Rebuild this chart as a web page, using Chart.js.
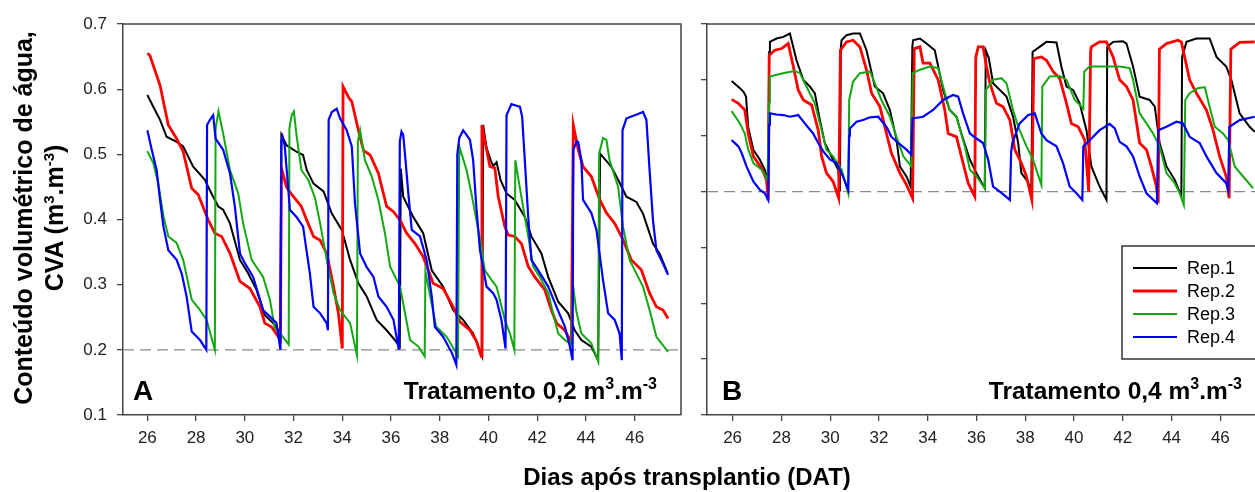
<!DOCTYPE html>
<html>
<head>
    <meta charset="utf-8">
    <title>Conteúdo volumétrico de água</title>
    <style>
        body {
            margin: 0;
            background-color: #fff;
            font-family: Arial, "Liberation Sans", sans-serif;
        }

        #wrap {
            position: relative;
            width: 1255px;
            height: 492px;
            overflow: hidden;
        }

        canvas {
            position: absolute;
            top: 0;
        }

        #chartA { left: 0; }
        #chartB { left: 690px; }

        .ytitle {
            position: absolute;
            left: -170px;
            top: 186px;
            width: 420px;
            height: 64px;
            transform: rotate(-90deg);
            text-align: center;
            font-weight: bold;
            font-size: 25px;
            line-height: 31px;
            color: #000;
        }

        .xtitle {
            position: absolute;
            left: 437px;
            top: 464px;
            width: 500px;
            text-align: center;
            font-weight: bold;
            font-size: 24px;
            line-height: 26px;
            color: #000;
        }

        sup {
            font-size: 15px;
            vertical-align: 9px;
            line-height: 0;
        }
    </style>
</head>
<body>
    <div id="wrap">
        <canvas id="chartA" width="690" height="492"></canvas>
        <canvas id="chartB" width="565" height="492"></canvas>
        <div class="ytitle">Conteúdo volumétrico de água,<br>CVA (m<sup>3</sup>.m<sup>-3</sup>)</div>
        <div class="xtitle">Dias após transplantio (DAT)</div>
    </div>

    <script src="https://cdn.jsdelivr.net/npm/chart.js"></script>
    <script>
        // values: [day, CVA]
        const repLabels = ['Rep.1', 'Rep.2', 'Rep.3', 'Rep.4'];
        const repColors = ['#000000', '#ff0000', '#12a812', '#0000ff'];

        const xTicks = [26, 28, 30, 32, 34, 36, 38, 40, 42, 44, 46];
        const yTicksA = [0.1, 0.2, 0.3, 0.4, 0.5, 0.6, 0.7];
        const yTicksB = [0, 0.1, 0.2, 0.3, 0.4, 0.5, 0.6, 0.7];
        const thresholdA = 0.2;
        const thresholdB = 0.4;

        // Tratamento 0,2
        const repA1 = [[26.0,0.591],[26.31,0.568],[26.52,0.553],[26.79,0.527],[27.2,0.519],[27.47,0.512],[27.88,0.481],[28.36,0.461],[28.63,0.44],[28.91,0.42],[29.11,0.415],[29.39,0.394],[29.8,0.338],[30.14,0.317],[30.48,0.292],[30.82,0.253],[31.16,0.241],[31.46,0.226],[31.5,0.53],[31.71,0.514],[32.12,0.504],[32.39,0.499],[32.54,0.476],[32.82,0.455],[33.23,0.443],[33.57,0.409],[33.98,0.384],[34.32,0.338],[34.66,0.302],[35.0,0.282],[35.41,0.246],[35.82,0.23],[36.16,0.215],[36.36,0.205],[36.4,0.478],[36.5,0.435],[36.91,0.404],[37.32,0.379],[37.67,0.322],[38.14,0.297],[38.55,0.261],[38.96,0.246],[39.37,0.225],[39.74,0.19],[39.78,0.545],[39.92,0.51],[40.1,0.49],[40.2,0.482],[40.33,0.488],[40.5,0.46],[40.74,0.44],[41.08,0.43],[41.49,0.404],[41.76,0.374],[42.17,0.348],[42.45,0.312],[42.86,0.274],[43.27,0.256],[43.54,0.23],[43.81,0.215],[44.22,0.205],[44.5,0.184],[44.58,0.501],[45.04,0.481],[45.32,0.461],[45.66,0.435],[46.07,0.427],[46.34,0.409],[46.75,0.363],[47.02,0.348],[47.35,0.318]];
        const repA2 = [[26.0,0.655],[26.1,0.652],[26.52,0.606],[26.86,0.545],[27.2,0.524],[27.47,0.504],[27.82,0.448],[28.09,0.438],[28.5,0.399],[28.77,0.379],[29.05,0.374],[29.39,0.348],[29.8,0.305],[30.21,0.294],[30.62,0.266],[30.82,0.241],[31.1,0.235],[31.46,0.215],[31.5,0.479],[31.71,0.45],[31.93,0.438],[32.32,0.42],[32.54,0.399],[32.82,0.374],[33.09,0.368],[33.36,0.348],[33.64,0.297],[33.84,0.256],[34.0,0.202],[34.03,0.604],[34.25,0.588],[34.39,0.581],[34.66,0.537],[34.87,0.506],[35.14,0.499],[35.48,0.471],[35.82,0.42],[36.1,0.412],[36.37,0.399],[36.64,0.379],[36.98,0.363],[37.32,0.343],[37.73,0.302],[38.14,0.294],[38.55,0.266],[38.83,0.243],[39.24,0.23],[39.51,0.213],[39.7,0.19],[39.73,0.545],[39.85,0.52],[40.06,0.481],[40.26,0.479],[40.4,0.435],[40.67,0.389],[40.81,0.376],[41.08,0.374],[41.35,0.363],[41.63,0.328],[41.9,0.312],[42.31,0.292],[42.58,0.261],[42.79,0.241],[43.13,0.23],[43.4,0.212],[43.48,0.545],[43.68,0.507],[43.88,0.481],[44.22,0.466],[44.57,0.43],[44.84,0.41],[45.18,0.394],[45.52,0.369],[45.86,0.338],[46.27,0.323],[46.61,0.287],[46.89,0.266],[47.16,0.261],[47.37,0.248]];
        const repA3 = [[26.0,0.505],[26.25,0.486],[26.45,0.455],[26.66,0.405],[26.86,0.374],[27.2,0.364],[27.47,0.338],[27.82,0.277],[28.16,0.261],[28.43,0.246],[28.77,0.2],[28.8,0.54],[28.92,0.566],[29.11,0.532],[29.39,0.476],[29.73,0.44],[29.93,0.394],[30.28,0.338],[30.75,0.312],[31.03,0.277],[31.23,0.233],[31.5,0.223],[31.8,0.208],[31.83,0.54],[31.92,0.56],[32.01,0.566],[32.12,0.53],[32.32,0.476],[32.6,0.461],[32.88,0.433],[33.09,0.394],[33.36,0.338],[33.64,0.287],[33.91,0.261],[34.32,0.241],[34.6,0.192],[34.64,0.52],[34.73,0.537],[34.93,0.491],[35.21,0.466],[35.48,0.43],[35.75,0.379],[35.96,0.328],[36.37,0.297],[36.78,0.215],[37.12,0.205],[37.38,0.19],[37.41,0.32],[37.53,0.297],[37.85,0.236],[38.28,0.22],[38.6,0.2],[38.75,0.19],[38.8,0.512],[39.1,0.476],[39.3,0.44],[39.65,0.37],[39.85,0.322],[40.13,0.307],[40.33,0.297],[40.67,0.246],[40.88,0.225],[41.06,0.2],[41.1,0.491],[41.22,0.463],[41.63,0.374],[41.83,0.328],[42.1,0.312],[42.45,0.287],[42.65,0.256],[42.86,0.225],[43.13,0.215],[43.4,0.208],[43.46,0.302],[43.6,0.26],[43.81,0.225],[44.22,0.21],[44.5,0.182],[44.54,0.501],[44.7,0.525],[44.84,0.522],[44.97,0.491],[45.32,0.45],[45.52,0.389],[45.79,0.338],[46.07,0.317],[46.34,0.297],[46.61,0.261],[46.89,0.22],[47.37,0.197]];
        const repA4 = [[26.0,0.537],[26.18,0.507],[26.38,0.476],[26.52,0.43],[26.66,0.389],[26.86,0.353],[27.2,0.338],[27.41,0.317],[27.61,0.282],[27.82,0.228],[28.16,0.215],[28.42,0.2],[28.45,0.545],[28.6,0.555],[28.7,0.56],[28.8,0.524],[29.11,0.507],[29.39,0.471],[29.59,0.42],[29.8,0.348],[30.0,0.333],[30.34,0.312],[30.75,0.261],[31.03,0.251],[31.3,0.241],[31.46,0.2],[31.5,0.52],[31.55,0.527],[31.64,0.512],[31.85,0.415],[32.12,0.404],[32.39,0.389],[32.67,0.317],[32.82,0.266],[33.09,0.256],[33.36,0.241],[33.41,0.23],[33.44,0.553],[33.57,0.565],[33.77,0.57],[33.91,0.555],[34.18,0.537],[34.39,0.512],[34.52,0.425],[34.73,0.348],[35.0,0.327],[35.28,0.312],[35.48,0.282],[35.82,0.266],[36.1,0.246],[36.32,0.2],[36.36,0.52],[36.43,0.535],[36.5,0.53],[36.57,0.501],[36.71,0.44],[36.85,0.384],[37.19,0.374],[37.46,0.338],[37.67,0.282],[37.8,0.235],[38.14,0.22],[38.5,0.195],[38.68,0.177],[38.72,0.5],[38.8,0.525],[38.96,0.537],[39.1,0.53],[39.24,0.522],[39.37,0.491],[39.5,0.42],[39.65,0.353],[39.92,0.297],[40.19,0.287],[40.33,0.277],[40.53,0.246],[40.7,0.202],[40.74,0.56],[40.94,0.577],[41.29,0.573],[41.38,0.558],[41.49,0.491],[41.63,0.404],[41.76,0.338],[42.04,0.322],[42.45,0.297],[42.79,0.266],[43.13,0.236],[43.34,0.205],[43.45,0.184],[43.48,0.507],[43.62,0.52],[43.68,0.519],[43.81,0.491],[43.88,0.43],[44.22,0.41],[44.43,0.384],[44.7,0.307],[44.91,0.256],[45.18,0.246],[45.38,0.225],[45.47,0.184],[45.5,0.537],[45.66,0.555],[45.86,0.558],[46.14,0.562],[46.34,0.565],[46.48,0.553],[46.61,0.476],[46.75,0.399],[46.89,0.353],[47.09,0.338],[47.37,0.315]];

        // Tratamento 0,4
        const repB1 = [[25.96,0.598],[26.3,0.585],[26.44,0.579],[26.55,0.57],[26.64,0.515],[26.85,0.475],[27.12,0.457],[27.32,0.439],[27.46,0.418],[27.5,0.65],[27.53,0.668],[27.8,0.674],[28.08,0.677],[28.35,0.683],[28.62,0.635],[28.9,0.6],[29.17,0.588],[29.37,0.576],[29.58,0.528],[29.78,0.487],[30.12,0.457],[30.33,0.439],[30.4,0.4],[30.44,0.66],[30.47,0.671],[30.67,0.68],[30.94,0.683],[31.22,0.683],[31.49,0.653],[31.83,0.588],[32.17,0.576],[32.45,0.546],[32.72,0.493],[32.86,0.445],[33.13,0.427],[33.3,0.409],[33.37,0.66],[33.4,0.671],[33.68,0.674],[33.95,0.665],[34.29,0.653],[34.43,0.624],[34.63,0.582],[34.9,0.546],[35.18,0.534],[35.38,0.504],[35.73,0.457],[36.0,0.433],[36.34,0.406],[36.38,0.653],[36.5,0.64],[36.68,0.594],[36.96,0.582],[37.23,0.57],[37.5,0.534],[37.71,0.487],[37.84,0.433],[38.05,0.421],[38.25,0.405],[38.3,0.65],[38.59,0.659],[38.87,0.668],[39.28,0.667],[39.48,0.624],[39.69,0.588],[39.96,0.582],[40.23,0.558],[40.51,0.51],[40.71,0.445],[41.05,0.409],[41.33,0.385],[41.36,0.659],[41.6,0.668],[42.01,0.669],[42.15,0.665],[42.42,0.624],[42.69,0.57],[43.1,0.564],[43.31,0.552],[43.51,0.487],[43.79,0.445],[44.13,0.421],[44.4,0.392],[44.43,0.641],[44.61,0.668],[45.02,0.674],[45.56,0.674],[45.84,0.641],[46.24,0.624],[46.45,0.6],[46.79,0.54],[47.2,0.516],[47.41,0.507]];
        const repB2 = [[25.96,0.565],[26.23,0.558],[26.5,0.546],[26.64,0.504],[26.85,0.463],[27.19,0.442],[27.39,0.421],[27.46,0.385],[27.5,0.644],[27.73,0.653],[28.01,0.656],[28.28,0.665],[28.49,0.624],[28.69,0.582],[28.9,0.564],[29.24,0.555],[29.51,0.51],[29.65,0.463],[29.85,0.433],[30.12,0.418],[30.35,0.388],[30.42,0.653],[30.67,0.668],[30.94,0.671],[31.22,0.659],[31.49,0.618],[31.7,0.576],[32.04,0.552],[32.31,0.504],[32.51,0.469],[32.86,0.433],[33.13,0.412],[33.38,0.388],[33.45,0.656],[33.68,0.659],[33.81,0.63],[34.09,0.63],[34.43,0.6],[34.7,0.546],[34.84,0.504],[35.18,0.498],[35.45,0.451],[35.66,0.415],[35.93,0.391],[35.97,0.64],[36.07,0.659],[36.27,0.659],[36.41,0.624],[36.55,0.594],[36.82,0.558],[37.09,0.552],[37.37,0.528],[37.57,0.475],[37.84,0.451],[38.05,0.427],[38.27,0.385],[38.35,0.638],[38.66,0.641],[38.87,0.635],[39.14,0.615],[39.41,0.603],[39.69,0.558],[39.89,0.522],[40.17,0.516],[40.44,0.492],[40.6,0.4],[40.68,0.65],[40.71,0.659],[41.05,0.668],[41.33,0.668],[41.6,0.641],[41.87,0.6],[42.15,0.588],[42.42,0.564],[42.69,0.487],[42.97,0.475],[43.17,0.445],[43.38,0.409],[43.45,0.379],[43.5,0.655],[43.79,0.665],[44.26,0.671],[44.4,0.668],[44.74,0.6],[45.02,0.576],[45.43,0.546],[45.7,0.51],[45.97,0.463],[46.24,0.427],[46.36,0.388],[46.43,0.655],[46.79,0.667],[47.41,0.668]];
        const repB3 = [[25.96,0.544],[26.3,0.522],[26.5,0.504],[26.64,0.475],[26.85,0.451],[27.19,0.439],[27.43,0.421],[27.5,0.56],[27.53,0.606],[27.8,0.609],[28.21,0.613],[28.55,0.616],[28.76,0.612],[28.96,0.594],[29.37,0.558],[29.65,0.51],[29.85,0.475],[30.12,0.463],[30.47,0.439],[30.74,0.397],[30.78,0.564],[30.94,0.597],[31.22,0.612],[31.63,0.615],[31.83,0.594],[32.1,0.564],[32.45,0.534],[32.72,0.498],[33.0,0.463],[33.33,0.445],[33.38,0.612],[33.68,0.618],[34.09,0.624],[34.43,0.621],[34.63,0.588],[34.9,0.546],[35.18,0.534],[35.52,0.481],[35.73,0.439],[36.0,0.427],[36.34,0.406],[36.39,0.582],[36.68,0.6],[37.02,0.603],[37.23,0.594],[37.5,0.546],[37.71,0.516],[38.05,0.481],[38.32,0.457],[38.66,0.412],[38.7,0.588],[39.0,0.606],[39.41,0.607],[39.69,0.6],[40.03,0.564],[40.3,0.552],[40.38,0.548],[40.42,0.615],[40.64,0.624],[41.46,0.624],[41.87,0.624],[42.28,0.621],[42.42,0.6],[42.69,0.54],[42.97,0.522],[43.24,0.504],[43.51,0.481],[43.79,0.433],[44.13,0.415],[44.33,0.397],[44.5,0.376],[44.56,0.564],[44.74,0.576],[45.08,0.585],[45.36,0.587],[45.49,0.564],[45.77,0.516],[46.11,0.504],[46.32,0.492],[46.59,0.445],[46.93,0.427],[47.34,0.406]];
        const repB4 = [[25.96,0.492],[26.16,0.484],[26.25,0.48],[26.37,0.469],[26.57,0.445],[26.85,0.418],[27.12,0.403],[27.32,0.397],[27.46,0.385],[27.5,0.52],[27.53,0.54],[27.8,0.538],[28.08,0.537],[28.35,0.534],[28.69,0.537],[28.96,0.522],[29.3,0.504],[29.51,0.487],[29.72,0.472],[30.0,0.457],[30.26,0.451],[30.47,0.433],[30.74,0.403],[30.78,0.5],[30.81,0.513],[31.08,0.525],[31.35,0.528],[31.63,0.533],[31.97,0.534],[32.31,0.516],[32.51,0.498],[32.79,0.487],[33.13,0.475],[33.33,0.466],[33.38,0.531],[33.81,0.534],[34.22,0.546],[34.63,0.564],[35.04,0.573],[35.25,0.57],[35.45,0.54],[35.73,0.504],[36.0,0.495],[36.27,0.487],[36.48,0.457],[36.68,0.409],[36.96,0.4],[37.37,0.385],[37.42,0.47],[37.47,0.487],[37.77,0.522],[38.12,0.537],[38.39,0.54],[38.66,0.504],[38.87,0.492],[39.28,0.481],[39.55,0.451],[39.82,0.409],[40.1,0.397],[40.34,0.385],[40.38,0.481],[40.64,0.492],[41.05,0.51],[41.46,0.521],[41.67,0.513],[41.87,0.489],[42.15,0.481],[42.42,0.463],[42.69,0.427],[42.97,0.397],[43.4,0.379],[43.45,0.51],[43.79,0.516],[44.2,0.525],[44.47,0.522],[44.74,0.498],[45.15,0.487],[45.43,0.463],[45.84,0.433],[46.24,0.415],[46.32,0.403],[46.37,0.516],[46.79,0.528],[47.41,0.534]];

        const FONT = 'Arial, "Liberation Sans", sans-serif';
        Chart.defaults.font.family = FONT;
        Chart.defaults.color = '#222';

        function drawSupText(ctx, parts, right, base) {
            const big = 'bold 24.5px ' + FONT;
            const small = 'bold 16px ' + FONT;
            let w = 0;
            parts.forEach(p => {
                ctx.font = p.sup ? small : big;
                w += ctx.measureText(p.t).width;
            });
            let x = right - w;
            ctx.textAlign = 'left';
            parts.forEach(p => {
                ctx.font = p.sup ? small : big;
                ctx.fillText(p.t, x, p.sup ? base - 10 : base);
                x += ctx.measureText(p.t).width;
            });
        }

        const decoPlugin = {
            id: 'deco',
            afterDraw(chart, args, opts) {
                const ctx = chart.ctx;
                const a = chart.chartArea;
                ctx.save();
                ctx.strokeStyle = '#444';
                ctx.lineWidth = 1.5;
                ctx.beginPath();
                ctx.moveTo(a.left, a.top);
                ctx.lineTo(a.right, a.top);
                if (opts.rightBorder) ctx.lineTo(a.right, a.bottom);
                ctx.stroke();

                ctx.fillStyle = '#000';
                ctx.textBaseline = 'alphabetic';
                ctx.textAlign = 'left';
                ctx.font = 'bold 28px ' + FONT;
                ctx.fillText(opts.letter, opts.letterX, 400);
                drawSupText(ctx, opts.treat, opts.treatRight, 399);

                if (opts.legend) {
                    const lg = opts.legend;
                    ctx.strokeStyle = '#000';
                    ctx.lineWidth = 1.2;
                    ctx.strokeRect(lg.x, lg.y, lg.w, lg.h);
                    ctx.font = '18px ' + FONT;
                    ctx.textBaseline = 'middle';
                    chart.data.datasets.filter(d => d.isRep).forEach((d, i) => {
                        const yy = lg.y + 22 + i * 23;
                        ctx.strokeStyle = d.borderColor;
                        ctx.lineWidth = d.borderWidth;
                        ctx.beginPath();
                        ctx.moveTo(lg.x + 11, yy);
                        ctx.lineTo(lg.x + 55, yy);
                        ctx.stroke();
                        ctx.fillStyle = '#000';
                        ctx.fillText(d.label, lg.x + 65, yy + 1);
                    });
                }
                ctx.restore();
            }
        };

        function makeChart(id, series, cfg) {
            const widths = [2, 2.8, 2, 2.2];
            const datasets = series.map((s, i) => ({
                label: repLabels[i],
                isRep: true,
                data: s.map(p => ({ x: p[0], y: p[1] })),
                borderColor: repColors[i],
                borderWidth: widths[i],
                pointRadius: 0,
                tension: 0,
                order: 4 - i
            }));
            datasets.push({
                label: 'limite',
                data: [{ x: cfg.xMin, y: cfg.threshold }, { x: cfg.xMax, y: cfg.threshold }],
                borderColor: '#8c8c8c',
                borderWidth: 1.3,
                borderDash: [11, 6],
                pointRadius: 0,
                order: 10
            });

            return new Chart(document.getElementById(id), {
                type: 'line',
                data: { datasets: datasets },
                plugins: [decoPlugin],
                options: {
                    responsive: false,
                    animation: false,
                    devicePixelRatio: 1,
                    layout: { padding: { top: 24, right: cfg.padRight, left: 0, bottom: 0 } },
                    plugins: {
                        legend: { display: false },
                        tooltip: { enabled: false },
                        deco: cfg.deco
                    },
                    scales: {
                        x: {
                            type: 'linear',
                            min: cfg.xMin,
                            max: cfg.xMax,
                            afterBuildTicks: s => { s.ticks = xTicks.map(v => ({ value: v })); },
                            afterFit: s => { s.height = 77; },
                            ticks: {
                                font: { size: 17 },
                                color: '#222',
                                padding: 7,
                                maxRotation: 0,
                                autoSkip: false
                            },
                            grid: { drawOnChartArea: false, drawTicks: true, tickLength: 6, color: '#444', lineWidth: 1.3 },
                            border: { display: true, color: '#444', width: 1.5 }
                        },
                        y: {
                            min: cfg.yMin,
                            max: 0.7,
                            afterBuildTicks: s => { s.ticks = cfg.yTicks.map(v => ({ value: v })); },
                            afterFit: s => { s.width = cfg.yWidth; },
                            ticks: {
                                font: { size: 17 },
                                color: '#222',
                                padding: 10,
                                callback: cfg.yLabels ? (v => Number(v).toFixed(1)) : (() => '')
                            },
                            grid: { drawOnChartArea: false, drawTicks: true, tickLength: 6, color: '#444', lineWidth: 1.3 },
                            border: { display: true, color: '#444', width: 1.5 }
                        }
                    }
                }
            });
        }

        makeChart('chartA', [repA1, repA2, repA3, repA4], {
            xMin: 25, xMax: 47.9, yMin: 0.1, yTicks: yTicksA, yLabels: true, yWidth: 123,
            padRight: 9, threshold: thresholdA,
            deco: {
                letter: 'A', letterX: 133, rightBorder: true, treatRight: 657,
                treat: [{ t: 'Tratamento 0,2 m' }, { t: '3', sup: true }, { t: '.m' }, { t: '-3', sup: true }]
            }
        });

        makeChart('chartB', [repB1, repB2, repB3, repB4], {
            xMin: 24.95, xMax: 47.42, yMin: 0, yTicks: yTicksB, yLabels: false, yWidth: 17,
            padRight: 0, threshold: thresholdB,
            deco: {
                letter: 'B', letterX: 32, rightBorder: false, treatRight: 552,
                treat: [{ t: 'Tratamento 0,4 m' }, { t: '3', sup: true }, { t: '.m' }, { t: '-3', sup: true }],
                legend: { x: 432, y: 246, w: 150, h: 113 }
            }
        });
    </script>
</body>
</html>
